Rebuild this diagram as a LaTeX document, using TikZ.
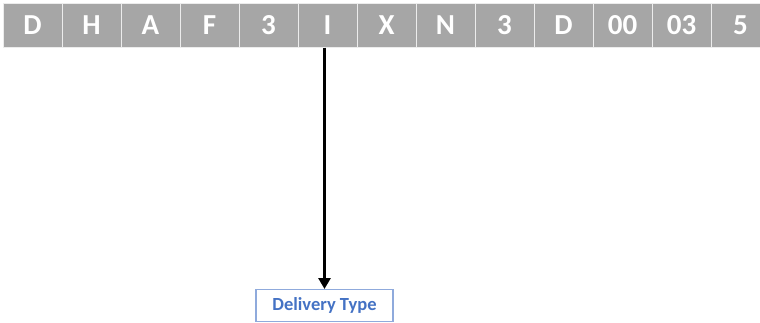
\documentclass[tikz,border=0pt]{standalone}
\usepackage{fontspec}
\setmainfont{Carlito}
\usetikzlibrary{arrows.meta}
\begin{document}
\begin{tikzpicture}[x=1pt,y=-1pt,
  cell/.style={draw=white!85!gray, line width=1pt, fill=black!35, minimum width=59pt, minimum height=43.5pt, inner sep=0pt, anchor=north west, text=white, font=\fontsize{29}{31}\selectfont\bfseries},
  label/.style={draw={rgb,255:red,143;green,170;blue,220}, line width=1.2pt, minimum width=137pt, minimum height=32pt, inner sep=0pt, anchor=north, text={rgb,255:red,68;green,114;blue,196}, font=\fontsize{18.5}{20}\selectfont\bfseries},
  conn/.style={line width=3pt, -{Triangle[length=11pt,width=12pt]}}]
\useasboundingbox (0,0) rectangle (760,322);
\begin{scope}
\clip (0,0) rectangle (760,322);
\foreach \t [count=\i from 0] in {D,H,A,F,3,I,X,N,3,D,00,03,5} {
  \node[cell] (c\i) at ({2.5+59*\i},3) {\t};
}
\end{scope}
\node[label] (dt) at (324.5,289) {Delivery Type};
\draw[conn] (c5.south -| dt.north) -- (dt.north);
\end{tikzpicture}
\end{document}
